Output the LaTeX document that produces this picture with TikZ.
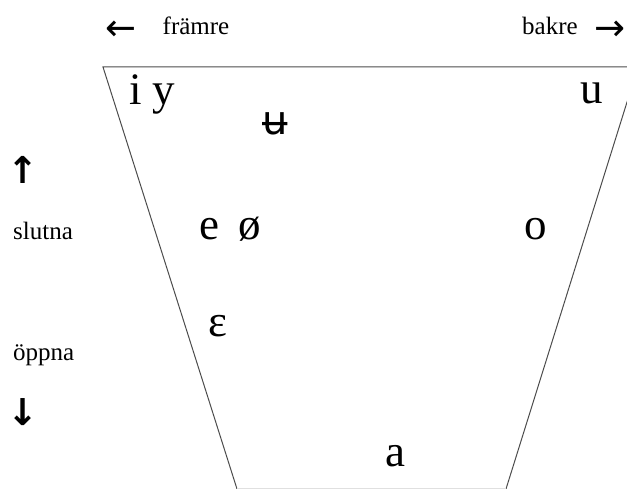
\documentclass[tikz,border=0pt]{standalone}
\usepackage{fontspec}
\setmainfont{Liberation Serif}
\newfontfamily\ipafont{DejaVu Sans}
\tikzset{
  axistext/.style={inner sep=0pt,anchor=base,font=\fontsize{25}{30}\selectfont},
  axisarrow/.style={inner sep=0pt,font=\ipafont\fontsize{37}{44}\selectfont},
  vowel/.style={inner sep=0pt,anchor=base,font=\fontsize{45}{52}\selectfont}
}
\begin{document}
\begin{tikzpicture}[x=1pt,y=1pt]
\useasboundingbox (0,0) rectangle (627,489);
\clip (0,0) rectangle (627,489);
% chart outline:
\path[draw=black!70,line width=1pt] (237,0) -- (103,422) -- (638,422) -- (506,0);
\path[draw=black!12,line width=1pt] (237,0) -- (506,0);
% axis texts at the top:
\node[axisarrow] (frontarrow) at (121,458) {←};
\node[axistext] (front) at (196,454) {främre};
\node[axistext] (back) at (550,454) {bakre};
\node[axisarrow,anchor=east] (backarrow) at (626,458) {→};
% axis texts at the left:
\node[axisarrow,font=\ipafont\bfseries\fontsize{37}{44}\selectfont] (closearrow) at (23,319) {↑};
\node[axistext,anchor=base west] (close) at (13,249) {slutna};
\node[axistext,anchor=base west] (open) at (13,128) {öppna};
\node[axisarrow,font=\ipafont\bfseries\fontsize{37}{44}\selectfont] (openarrow) at (23,77) {↓};
% vowels:
\node[vowel,anchor=base west] (iy) at (129,384) {i y};
\node[vowel,font=\ipafont\fontsize{40}{46}\selectfont] (ubar) at (275,354) {ʉ};
\node[vowel] (u) at (592,385) {u};
\node[vowel] (e) at (209,249) {e};
\node[vowel] (oslash) at (250,249) {ø};
\node[vowel] (o) at (536,249) {o};
\node[vowel] (epsilon) at (218,152) {ε};
\node[vowel] (a) at (395,22) {a};
\end{tikzpicture}
\end{document}
